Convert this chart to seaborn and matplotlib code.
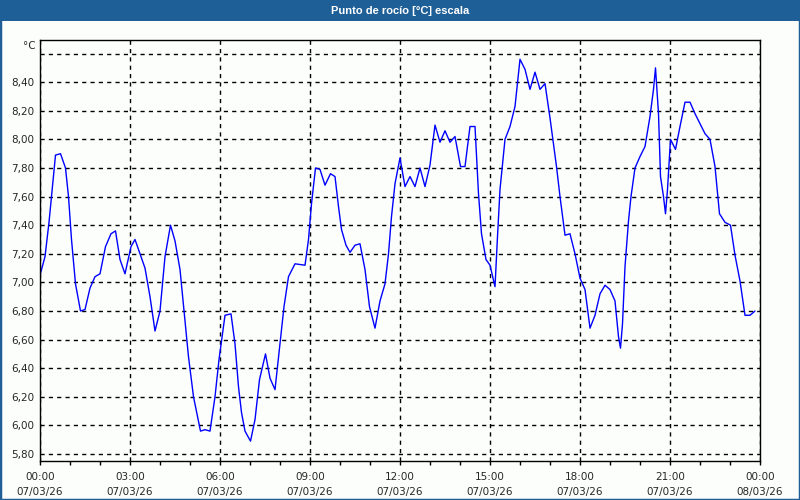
import matplotlib
matplotlib.use('Agg')
import matplotlib.pyplot as plt
import matplotlib.dates as mdates
from matplotlib.patches import Rectangle
import numpy as np
import pandas as pd
import seaborn as sns

# minutes after 07/03/26 00:00 and dew point readings
minutes = [0, 10, 18, 23, 31, 41, 51, 57, 63, 71, 81, 90, 100, 110, 120, 131, 142,
           151, 160, 170, 182, 190, 200, 210, 220, 230, 240, 250, 261, 270, 280,
           288, 297, 307, 321, 330, 340, 350, 358, 370, 382, 390, 397, 403, 410,
           421, 430, 439, 451, 460, 470, 480, 488, 497, 510, 530, 537, 543, 551,
           560, 570, 581, 590, 597, 603, 612, 620, 630, 640, 650, 659, 670, 680,
           690, 697, 703, 710, 720, 730, 740, 750, 760, 770, 780, 790, 800, 810,
           820, 830, 841, 850, 860, 870, 877, 883, 892, 900, 910, 915, 920, 930,
           940, 950, 960, 970, 980, 990, 1000, 1010, 1020, 1027, 1033, 1040, 1050,
           1060, 1070, 1080, 1090, 1100, 1110, 1120, 1130, 1140, 1150, 1157, 1161,
           1165, 1170, 1177, 1182, 1190, 1200, 1210, 1220, 1227, 1231, 1237, 1241,
           1247, 1251, 1255, 1261, 1271, 1280, 1290, 1300, 1310, 1320, 1330, 1340,
           1350, 1359, 1370, 1381, 1390, 1400, 1410, 1420, 1430]
dew_point = [7.05, 7.18, 7.42, 7.60, 7.89, 7.90, 7.80, 7.60, 7.30, 6.99, 6.80, 6.81,
             6.96, 7.04, 7.06, 7.25, 7.34, 7.36, 7.16, 7.06, 7.25, 7.30, 7.20, 7.10,
             6.90, 6.66, 6.80, 7.18, 7.40, 7.29, 7.09, 6.80, 6.48, 6.20, 5.96, 5.97,
             5.96, 6.20, 6.46, 6.77, 6.78, 6.57, 6.27, 6.09, 5.96, 5.89, 6.04, 6.32,
             6.50, 6.33, 6.25, 6.57, 6.83, 7.04, 7.13, 7.12, 7.30, 7.55, 7.80, 7.79,
             7.68, 7.76, 7.74, 7.53, 7.37, 7.26, 7.21, 7.26, 7.27, 7.09, 6.83, 6.68,
             6.87, 6.99, 7.20, 7.46, 7.69, 7.87, 7.67, 7.74, 7.67, 7.80, 7.67, 7.82,
             8.10, 7.98, 8.06, 7.98, 8.02, 7.81, 7.81, 8.09, 8.09, 7.62, 7.34, 7.16,
             7.12, 6.97, 7.32, 7.65, 8.00, 8.09, 8.23, 8.56, 8.49, 8.35, 8.47, 8.35,
             8.39, 8.15, 7.97, 7.81, 7.60, 7.33, 7.34, 7.20, 7.03, 6.95, 6.68, 6.77,
             6.92, 6.98, 6.95, 6.87, 6.62, 6.54, 6.71, 7.11, 7.43, 7.60, 7.80, 7.88,
             7.95, 8.16, 8.35, 8.50, 8.18, 7.74, 7.60, 7.48, 7.65, 8.00, 7.93, 8.09,
             8.26, 8.26, 8.18, 8.11, 8.04, 8.00, 7.81, 7.48, 7.42, 7.40, 7.19, 7.01,
             6.77, 6.77, 6.80]
y_ticks = [5.8, 6.0, 6.2, 6.4, 6.6, 6.8, 7.0, 7.2, 7.4, 7.6, 7.8, 8.0, 8.2, 8.4, 8.6]

title = 'Punto de rocío [°C] escala'
unit = '°C'

start = pd.Timestamp('2026-03-07 00:00')
df = pd.DataFrame({
    'time': start + pd.to_timedelta(minutes, unit='m'),
    'value': dew_point,
})

sns.set_style('white')
plt.rcParams['font.family'] = ['DejaVu Sans']

bg = '#fcfefc'
bar_blue = '#1e5f98'

fig = plt.figure(figsize=(8, 5), dpi=100, facecolor=bg)
ax = fig.add_axes([40 / 800, 1 - 461 / 500, 720 / 800, 421 / 500])
ax.set_facecolor(bg)

sns.lineplot(data=df, x='time', y='value', ax=ax, color='#0000ff', linewidth=1)

ax.set_xlim(start, start + pd.Timedelta(hours=24))
ax.set_ylim(5.751, 8.695)

ax.xaxis.set_major_locator(mdates.HourLocator(byhour=range(0, 24, 3)))
ax.xaxis.set_minor_locator(mdates.HourLocator())
ax.xaxis.set_major_formatter(mdates.DateFormatter('%H:%M\n%d/%m/%y'))
ax.set_yticks(y_ticks)
ax.set_yticklabels([f'{v:.2f}'.replace('.', ',') if v < 8.5 else '' for v in y_ticks])

ax.tick_params(axis='x', which='both', direction='out', length=3, width=1,
               color='black', labelsize=7.5, pad=5, bottom=True)
ax.tick_params(axis='y', length=0, labelsize=7.5, pad=4)
for lbl in ax.get_xticklabels():
    lbl.set_linespacing(1.6)

ax.grid(True, which='major', color='black', linestyle=(0, (3, 3)), linewidth=1)
for s in ax.spines.values():
    s.set_visible(True)
    s.set_color('black')
    s.set_linewidth(1)

ax.set_xlabel('')
ax.set_ylabel('')

fig.text(36 / 800, 1 - 46 / 500, unit, ha='right', va='center', fontsize=7.5)

# header bar and frame
fig.patches.append(Rectangle((0, 1 - 21 / 500), 1, 21 / 500, transform=fig.transFigure,
                             facecolor=bar_blue, edgecolor='none', zorder=0))
fig.patches.append(Rectangle((0, 0), 1, 1, transform=fig.transFigure,
                             facecolor='none', edgecolor=bar_blue, linewidth=2.5, zorder=5))
fig.text(0.5, 1 - 10.5 / 500, title, ha='center', va='center', color='white',
         fontsize=8, fontweight='bold', family=['Liberation Sans', 'DejaVu Sans'])

fig.savefig('out.png', dpi=100, facecolor=bg)
